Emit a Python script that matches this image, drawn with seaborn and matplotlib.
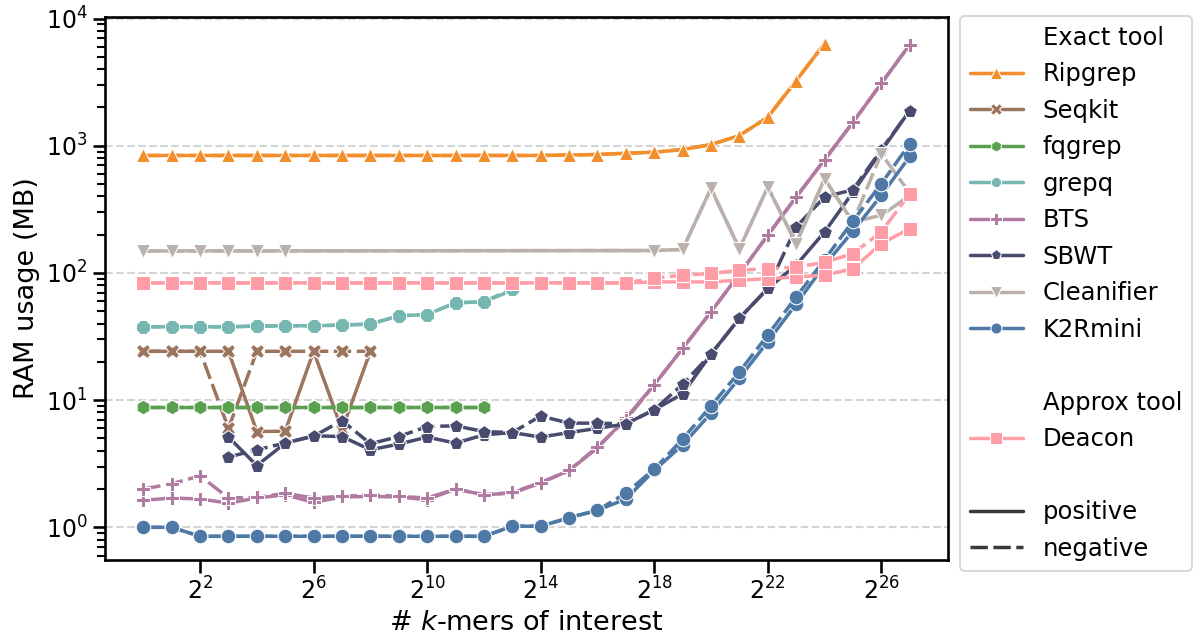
import matplotlib
matplotlib.use("Agg")
import numpy as np
import pandas as pd
import seaborn as sns
import matplotlib.pyplot as plt
from matplotlib.lines import Line2D
from matplotlib.ticker import NullLocator, FixedLocator

# ---------------- data (log2 of # k-mers, RAM in MB) ----------------
tools = ["Ripgrep", "Seqkit", "fqgrep", "grepq", "BTS", "SBWT", "Cleanifier", "K2Rmini", "Deacon"]
colors = ["#F28E2B", "#9C755F", "#59A14F", "#76B7B2", "#B07AA1", "#484B6E", "#BAB0AC", "#4E79A7", "#FF9DA7"]
markers = ["^", "X", "h", "8", "P", "p", "v", "o", "s"]

ripgrep_x = [0, 1, 2, 3, 4, 5, 6, 7, 8, 9, 10, 11, 12, 13, 14, 15, 16, 17, 18, 19, 20, 21, 22, 23, 24]
ripgrep_pos = [838, 838, 838, 838, 838, 838, 838, 838, 838, 838, 838, 838, 838, 838, 838, 845, 853, 873, 889, 933, 1021, 1202, 1674, 3244, 6350]
ripgrep_neg = [838, 838, 838, 838, 838, 838, 838, 838, 838, 838, 838, 838, 838, 838, 838, 845, 853, 873, 889, 933, 1021, 1202, 1674, 3244, 6350]

seqkit_x = [0, 1, 2, 3, 4, 5, 6, 7, 8]
seqkit_pos = [24.2, 24.2, 24.2, 24.2, 5.66, 5.7, 24.2, 5.85, 24.2]
seqkit_neg = [24.2, 24.2, 24.2, 6.0, 24.2, 24.2, 24.2, 24.2, 24.2]

fqgrep_x = [0, 1, 2, 3, 4, 5, 6, 7, 8, 9, 10, 11, 12]
fqgrep_pos = [8.8, 8.8, 8.8, 8.8, 8.8, 8.8, 8.8, 8.8, 8.8, 8.8, 8.8, 8.8, 8.8]
fqgrep_neg = [8.8, 8.8, 8.8, 8.8, 8.8, 8.8, 8.8, 8.8, 8.8, 8.8, 8.8, 8.8, 8.8]

grepq_x = [0, 1, 2, 3, 4, 5, 6, 7, 8, 9, 10, 11, 12, 13]
grepq_pos = [37.7, 37.7, 37.7, 37.7, 38.2, 38.4, 38.4, 38.9, 39.6, 46.0, 47.1, 58.2, 59.3, 73]
grepq_neg = [37.7, 37.7, 37.7, 37.7, 38.2, 38.4, 38.4, 38.9, 39.6, 46.0, 47.1, 58.2, 59.3, 75]

bts_x = list(range(28))
bts_pos = [1.63, 1.70, 1.67, 1.55, 1.70, 1.80, 1.57, 1.73, 1.75, 1.73, 1.65, 2.0, 1.80, 1.86, 2.23, 2.8, 4.2, 7.2, 13.2, 25.5, 49.4, 98, 198, 395, 775, 1528, 3090, 6220]
bts_neg = [2.0, 2.2, 2.54, 1.70, 1.72, 1.85, 1.70, 1.75, 1.80, 1.75, 1.70, 2.0, 1.80, 1.88, 2.25, 2.8, 4.3, 7.0, 13.2, 25.5, 49.4, 98, 198, 395, 775, 1528, 3090, 6220]

sbwt_x = [3, 4, 5, 6, 7, 8, 9, 10, 11, 12, 13, 14, 15, 16, 17, 18, 19, 20, 21, 22, 23, 24, 25, 26, 27]
sbwt_pos = [5.12, 3.06, 4.59, 5.24, 5.17, 4.07, 4.51, 5.12, 4.59, 5.33, 5.56, 5.12, 5.56, 6.0, 6.5, 8.4, 11.2, 23, 43.9, 75.5, 115, 210, 430, 910, 1890]
sbwt_neg = [3.57, 4.07, 4.6, 5.2, 6.9, 4.54, 5.17, 6.2, 6.28, 5.66, 5.56, 7.5, 6.59, 6.59, 6.5, 8.4, 13.3, 23, 43.9, 75.5, 230, 395, 451, 930, 1890]

cleanifier_x = [0, 1, 2, 3, 4, 5, 18, 19, 20, 21, 22, 23, 24, 25, 26, 27]
cleanifier_pos = [149, 149, 149, 149, 149, 149, 150, 153, 462, 155, 473, 170, 550, 251, 284, 405]
cleanifier_neg = [149, 149, 149, 149, 149, 149, 150, 153, 462, 155, 473, 170, 550, 251, 865, 425]

k2rmini_x = list(range(28))
k2rmini_pos = [1.0, 1.0, 0.85, 0.85, 0.85, 0.85, 0.85, 0.85, 0.85, 0.85, 0.85, 0.85, 0.85, 1.02, 1.02, 1.19, 1.36, 1.67, 2.8, 4.45, 7.9, 14.9, 28.8, 56.9, 115, 213, 407, 823]
k2rmini_neg = [1.0, 1.0, 0.85, 0.85, 0.85, 0.85, 0.85, 0.85, 0.85, 0.85, 0.85, 0.85, 0.85, 1.02, 1.02, 1.19, 1.36, 1.86, 2.87, 4.94, 9.0, 16.7, 32.5, 64.8, 127, 256, 502, 1035]

deacon_x = list(range(28))
deacon_pos = [83.5, 83.5, 83.5, 83.5, 83.5, 83.5, 83.5, 83.5, 83.5, 83.5, 83.5, 83.5, 83.5, 83.5, 83.5, 83.5, 83.5, 83.5, 85, 85, 85, 87.7, 90, 93, 96, 108, 170, 223]
deacon_neg = [83.5, 83.5, 83.5, 83.5, 83.5, 83.5, 83.5, 83.5, 83.5, 83.5, 83.5, 83.5, 83.5, 83.5, 83.5, 83.5, 83.5, 83.5, 90.9, 96, 99, 105, 108, 111, 121, 142, 210, 420]

series = {
    "Ripgrep": (ripgrep_x, ripgrep_pos, ripgrep_neg),
    "Seqkit": (seqkit_x, seqkit_pos, seqkit_neg),
    "fqgrep": (fqgrep_x, fqgrep_pos, fqgrep_neg),
    "grepq": (grepq_x, grepq_pos, grepq_neg),
    "BTS": (bts_x, bts_pos, bts_neg),
    "SBWT": (sbwt_x, sbwt_pos, sbwt_neg),
    "Cleanifier": (cleanifier_x, cleanifier_pos, cleanifier_neg),
    "K2Rmini": (k2rmini_x, k2rmini_pos, k2rmini_neg),
    "Deacon": (deacon_x, deacon_pos, deacon_neg),
}

rows = []
for tool, (xs, pos, neg) in series.items():
    for e, v in zip(xs, pos):
        rows.append((tool, "positive", 2.0 ** e, v))
    for e, v in zip(xs, neg):
        rows.append((tool, "negative", 2.0 ** e, v))
df = pd.DataFrame(rows, columns=["tool", "type", "kmers", "ram"])

# ---------------- style ----------------
sns.set_theme(context="talk", style="ticks")
plt.rcParams["font.family"] = ["DejaVu Sans"]
plt.rcParams.update({
    "axes.labelsize": 19.5,
    "xtick.labelsize": 17,
    "ytick.labelsize": 17,
    "legend.fontsize": 17.5,
    "axes.edgecolor": "black",
    "xtick.color": "black",
    "ytick.color": "black",
    "axes.labelcolor": "black",
    "text.color": "black",
})

fig = plt.figure(figsize=(11.96, 6.37), dpi=100)
W, H = 1196, 637
ax = fig.add_axes([105 / W, 1 - 560 / H, (948 - 105) / W, (560 - 17) / H])

dash_neg = (5, 1.6)
for tool, col, mk in zip(tools, colors, markers):
    sub = df[df["tool"] == tool]
    sns.lineplot(data=sub, x="kmers", y="ram", style="type",
                 style_order=["positive", "negative"],
                 dashes={"positive": "", "negative": dash_neg},
                 marker=mk, color=col, markersize=10.5, linewidth=2.5,
                 estimator=None, legend=False, ax=ax)

ax.set_xscale("log", base=2)
ax.set_yscale("log")
ax.set_xlim(2 ** -1.35, 2 ** 28.35)
ax.set_ylim(10 ** -0.257, 10 ** 4.012)

xt = list(range(2, 27, 4))
ax.xaxis.set_major_locator(FixedLocator([2.0 ** k for k in xt]))
ax.set_xticklabels([f"$2^{{{k}}}$" for k in xt])
ax.xaxis.set_minor_locator(NullLocator())

ax.yaxis.grid(True, which="major", linestyle="--", color="#d4d4d4", linewidth=1.5)
ax.xaxis.grid(False)
ax.set_axisbelow(True)
for s in ax.spines.values():
    s.set_color("black")
    s.set_linewidth(1.9)

ax.set_xlabel("# $k$-mers of interest")
ax.set_ylabel("RAM usage (MB)")

# ---------------- legend ----------------
def blank(label):
    return Line2D([], [], linestyle="none", marker=None, label=label)

handles = [blank("Exact tool")]
for tool, col, mk in zip(tools, colors, markers):
    if tool == "Deacon":
        continue
    handles.append(Line2D([], [], color=col, marker=mk, markersize=8, linewidth=2.5,
                          markeredgecolor="w", markeredgewidth=0.75, label=tool))
handles.append(blank(" "))
handles.append(blank("Approx tool"))
handles.append(Line2D([], [], color=colors[-1], marker=markers[-1], markersize=8, linewidth=2.5,
                      markeredgecolor="w", markeredgewidth=0.75, label="Deacon"))
handles.append(blank(" "))
handles.append(Line2D([], [], color="#3a3a3a", linewidth=2.5, label="positive"))
handles.append(Line2D([], [], color="#3a3a3a", linewidth=2.5, linestyle=(0, dash_neg), label="negative"))

leg = fig.legend(handles=handles, loc="upper left",
                 bbox_to_anchor=(960 / W, 1 - 16 / H), bbox_transform=fig.transFigure,
                 borderaxespad=0, frameon=True, handlelength=2.2, labelspacing=0.515)
leg.get_frame().set_edgecolor("#d0d0d0")

fig.savefig("out.png", dpi=100)
